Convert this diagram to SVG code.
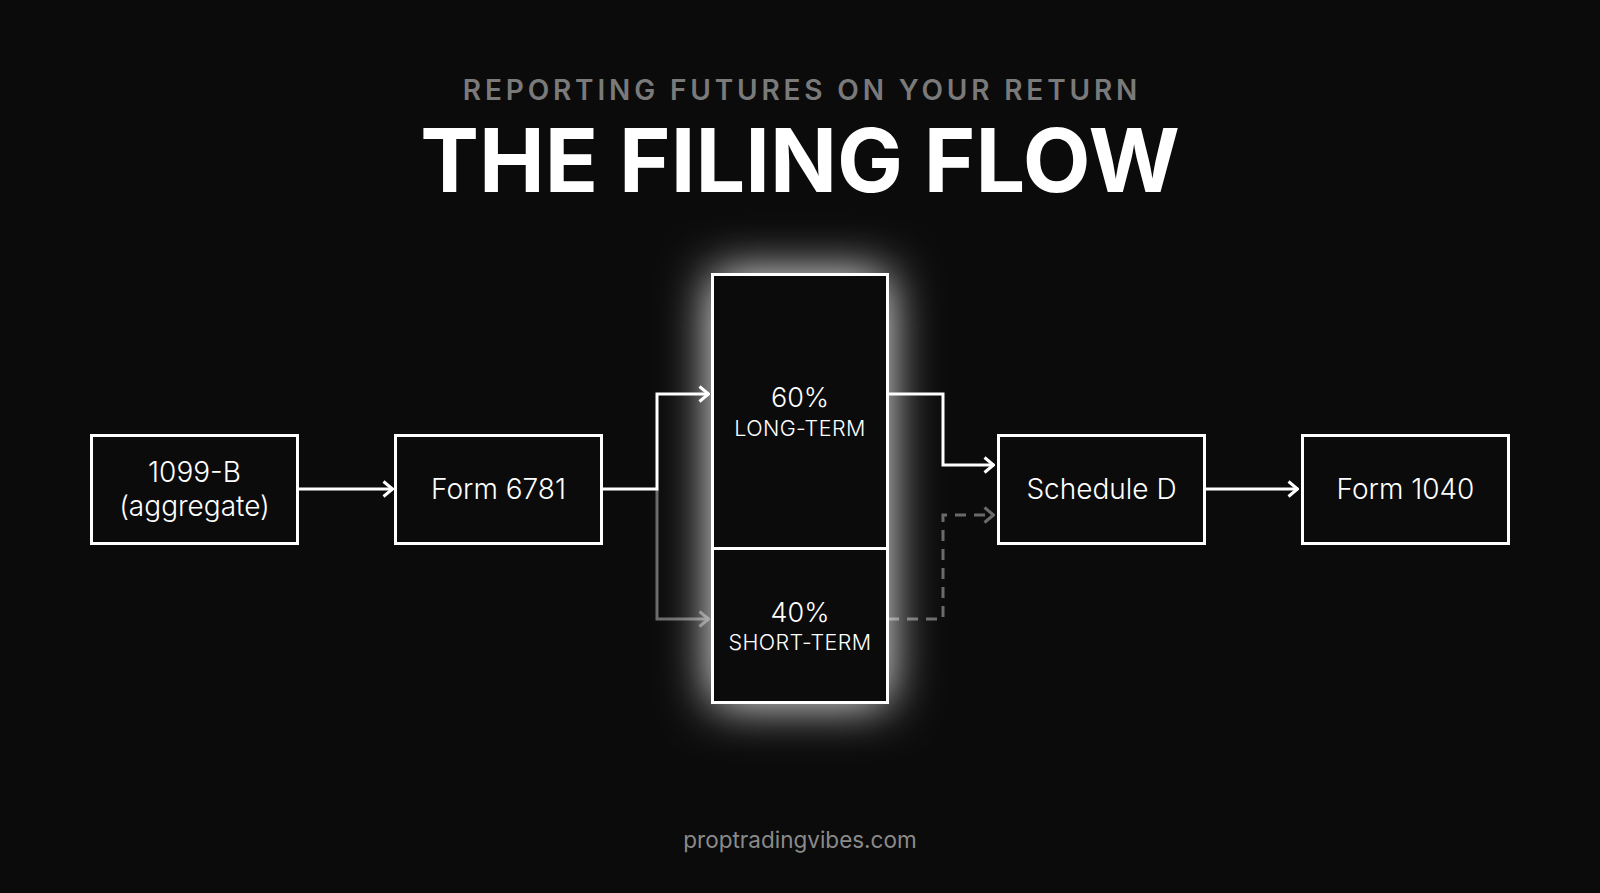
<svg xmlns="http://www.w3.org/2000/svg" width="1600" height="893" viewBox="0 0 1600 893">
  <defs>
    <style>
      .box { fill: #0b0b0b; stroke: #ffffff; stroke-width: 3; }
      .lbl { font-family: Inter, "Noto Sans", "Liberation Sans", sans-serif; font-size: 28px; font-weight: 300; fill: #ffffff; text-anchor: middle; }
      .pct { font-family: Inter, "Noto Sans", "Liberation Sans", sans-serif; font-size: 27px; font-weight: 300; fill: #ffffff; text-anchor: middle; }
      .term { font-family: Inter, "Noto Sans", "Liberation Sans", sans-serif; font-size: 21.5px; font-weight: 300; fill: #ffffff; text-anchor: middle; letter-spacing: 0.4px; }
      .conn { fill: none; stroke: #ffffff; stroke-width: 3; }
      .conn-gray { fill: none; stroke: #6a6a6a; stroke-width: 3; }
      .dash { stroke-dasharray: 11 8; }
    </style>
    <marker id="arrW" viewBox="0 0 12 18" refX="11" refY="9" markerWidth="12" markerHeight="18" markerUnits="userSpaceOnUse" orient="auto">
      <path d="M1.5,1.5 L10.5,9 L1.5,16.5" fill="none" stroke="#ffffff" stroke-width="3"/>
    </marker>
    <marker id="arrG" viewBox="0 0 12 18" refX="11" refY="9" markerWidth="12" markerHeight="18" markerUnits="userSpaceOnUse" orient="auto">
      <path d="M1.5,1.5 L10.5,9 L1.5,16.5" fill="none" stroke="#6a6a6a" stroke-width="3"/>
    </marker>
    <filter id="glow" x="-80%" y="-50%" width="260%" height="200%">
      <feGaussianBlur stdDeviation="25"/>
    </filter>
  </defs>

  <rect width="1600" height="893" fill="#0b0b0b"/>

  <g id="header">
    <text x="802" y="100" font-family="Inter, 'Noto Sans', 'Liberation Sans', sans-serif" font-size="28" font-weight="600" fill="#7a7a7a" text-anchor="middle" letter-spacing="3.85">REPORTING FUTURES ON YOUR RETURN</text>
    <text x="800" y="192" font-family="Inter, 'Noto Sans', 'Liberation Sans', sans-serif" font-size="88" font-weight="700" fill="#ffffff" text-anchor="middle">THE FILING FLOW</text>
  </g>

  <g id="connectors">
    <path class="conn" d="M298,489 H393" marker-end="url(#arrW)"/>
    <path class="conn-gray" d="M657,489 V619 H709" marker-end="url(#arrG)"/>
    <path class="conn" d="M601,489 H657 V394 H709" marker-end="url(#arrW)"/>
    <path class="conn" d="M888,394 H943 V465 H994" marker-end="url(#arrW)"/>
    <path class="conn-gray dash" d="M888,619 H943 V515 H994" marker-end="url(#arrG)"/>
    <path class="conn" d="M1204,489 H1298" marker-end="url(#arrW)"/>
  </g>

  <g id="node-1099b">
    <rect class="box" x="91.5" y="435.5" width="206" height="108"/>
    <text class="lbl" x="194.5" y="482">1099-B</text>
    <text class="lbl" x="194.5" y="516">(aggregate)</text>
  </g>

  <g id="node-form6781">
    <rect class="box" x="395.5" y="435.5" width="206" height="108"/>
    <text class="lbl" x="498.5" y="499">Form 6781</text>
  </g>

  <g id="node-split">
    <rect x="712" y="274" width="176" height="429" fill="#ffffff" opacity="1" filter="url(#glow)"/>
    <g id="node-longterm">
      <rect class="box" x="712.5" y="274.5" width="175" height="274"/>
      <text class="pct" x="800" y="407">60%</text>
      <text class="term" x="800" y="436">LONG-TERM</text>
    </g>
    <g id="node-shortterm">
      <rect class="box" x="712.5" y="548.5" width="175" height="154"/>
      <text class="pct" x="800" y="622">40%</text>
      <text class="term" x="800" y="650">SHORT-TERM</text>
    </g>
  </g>

  <g id="node-scheduled">
    <rect class="box" x="998.5" y="435.5" width="206" height="108"/>
    <text class="lbl" x="1101.5" y="499">Schedule D</text>
  </g>

  <g id="node-form1040">
    <rect class="box" x="1302.5" y="435.5" width="206" height="108"/>
    <text class="lbl" x="1405.5" y="499">Form 1040</text>
  </g>

  <g id="footer">
    <text x="800" y="848" font-family="Inter, 'Noto Sans', 'Liberation Sans', sans-serif" font-size="22.5" fill="#8a8a8a" text-anchor="middle">proptradingvibes.com</text>
  </g>
</svg>
